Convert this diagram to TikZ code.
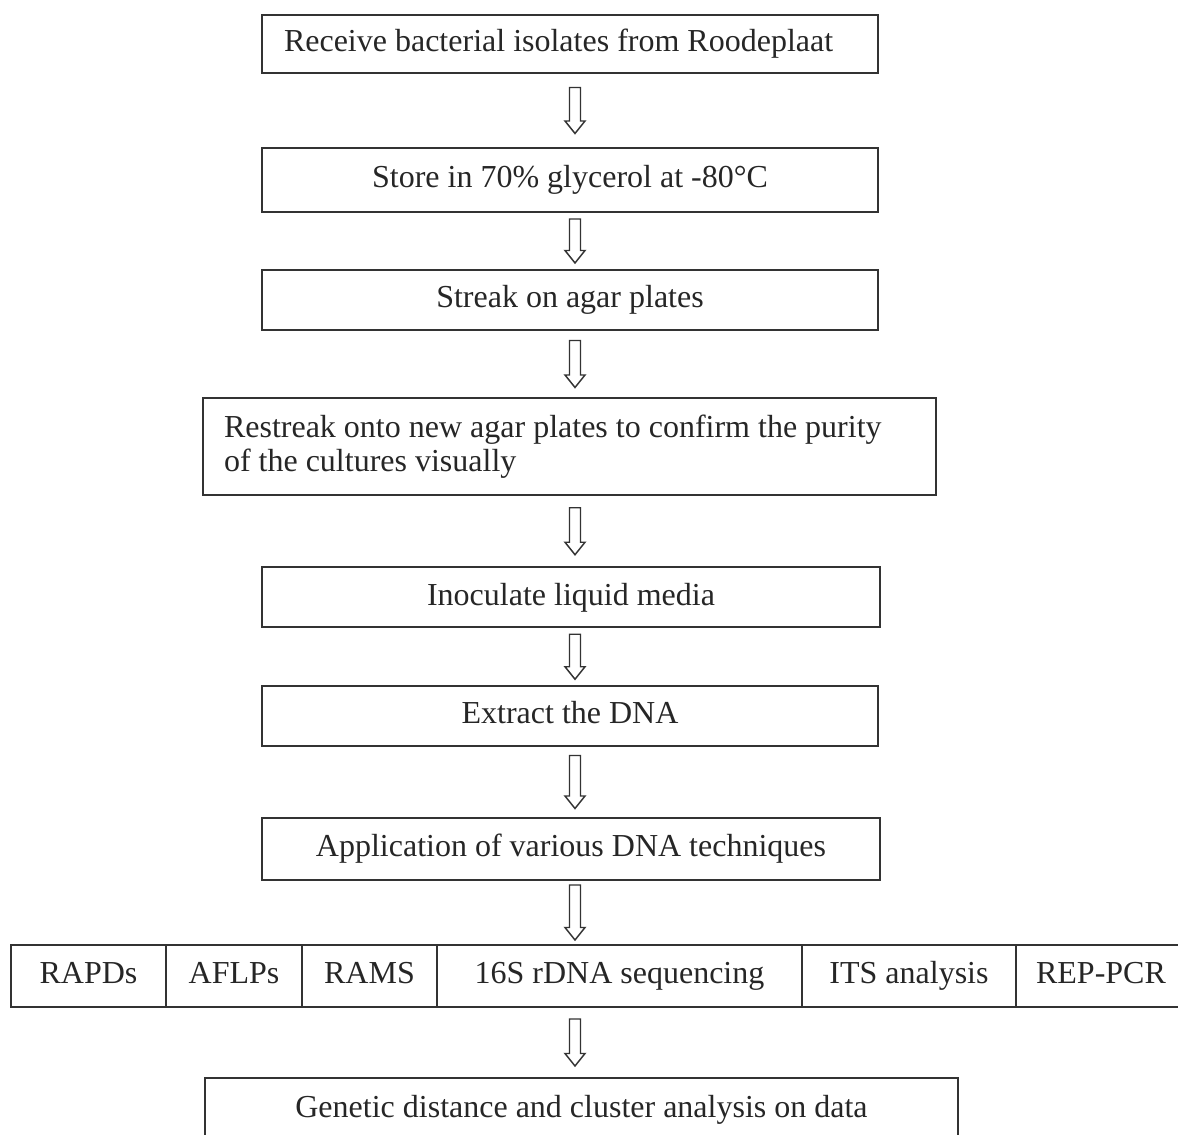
\documentclass[tikz,border=0pt]{standalone}
\usepackage{fontspec}
\setmainfont{Liberation Serif}
\usetikzlibrary{calc}

\newcommand{\pxu}{0.375pt}

\tikzset{
  stage/.style={draw=black!80, line width=0.75pt, rectangle, inner sep=0pt,
    minimum width=616*\pxu, minimum height=60*\pxu, text height=8.4pt, text depth=2.6pt,
    font=\fontsize{12}{12.75}\selectfont, text=black!85},
  cell/.style={stage, minimum height=62*\pxu},
  hollow arrow/.style={draw=black!80, line width=0.55pt, line join=miter}
}

% hollow block arrow half way between two nodes
\newcommand{\flowarrow}[3][47]{%
  \path ($(#2.south)!0.5!(#3.north)$) coordinate (m0);
  \coordinate (m) at (ax |- m0);
  \draw[hollow arrow] ($(m)+(-5.5,-#1/2)$) -- ++(11,0) -- ($(m)+(5.5,#1/2-12.5)$)
    -- ++(4.5,0) -- ($(m)+(0,#1/2)$) -- ($(m)+(-10,#1/2-12.5)$) -- ++(4.5,0) -- cycle;}

\begin{document}
\begin{tikzpicture}[x=\pxu, y=-\pxu]

    \useasboundingbox (0,0) rectangle (1178,1135);
    \clip (0,0) rectangle (1178,1135);
    \coordinate (ax) at (575,0);

    % main steps
    \node[stage, minimum height=58*\pxu, text width=572*\pxu, inner xsep=22*\pxu, align=flush left]
        (recv) at (570,44) {Receive bacterial isolates from Roodeplaat};
    \node[stage, minimum height=64*\pxu] (store) at (570,180) {Store in 70\% glycerol at -80°C};
    \node[stage] (streak) at (570,300) {Streak on agar plates};
    \node[stage, minimum width=733*\pxu, minimum height=97*\pxu, text width=691*\pxu,
        text height={}, text depth={}, inner xsep=21*\pxu, align=flush left] (restreak) at (569.5,446.5)
        {Restreak onto new agar plates to confirm the purity\\of the cultures visually};
    \node[stage, minimum width=618*\pxu] (inoc) at (571,597.5) {Inoculate liquid media};
    \node[stage] (extract) at (570,716) {Extract the DNA};
    \node[stage, minimum width=618*\pxu, minimum height=62*\pxu] (apply) at (571,849)
        {Application of various DNA techniques};

    % row of techniques
    \foreach \name/\xa/\xb/\txt in {rapd/11/166/RAPDs, aflp/166/302/AFLPs, rams/302/437/RAMS,
        seq/437/802/16S rDNA sequencing, its/802/1016/ITS analysis, rep/1016/1186/REP-PCR}
        \node[cell, minimum width={(\xb-\xa)*\pxu}] (\name) at ({(\xa+\xb)/2},976) {\txt};

    % last step
    \node[stage, minimum width=753*\pxu, minimum height=64*\pxu] (genetic) at (581.5,1110)
        {Genetic distance and cluster analysis on data};

    % arrows
    \foreach \a/\b/\l in {recv/store/46, store/streak/44, streak/restreak/47, restreak/inoc/47,
        inoc/extract/45, extract/apply/53, apply/seq/55, seq/genetic/47}
        \flowarrow[\l]{\a}{\b};

\end{tikzpicture}
\end{document}
